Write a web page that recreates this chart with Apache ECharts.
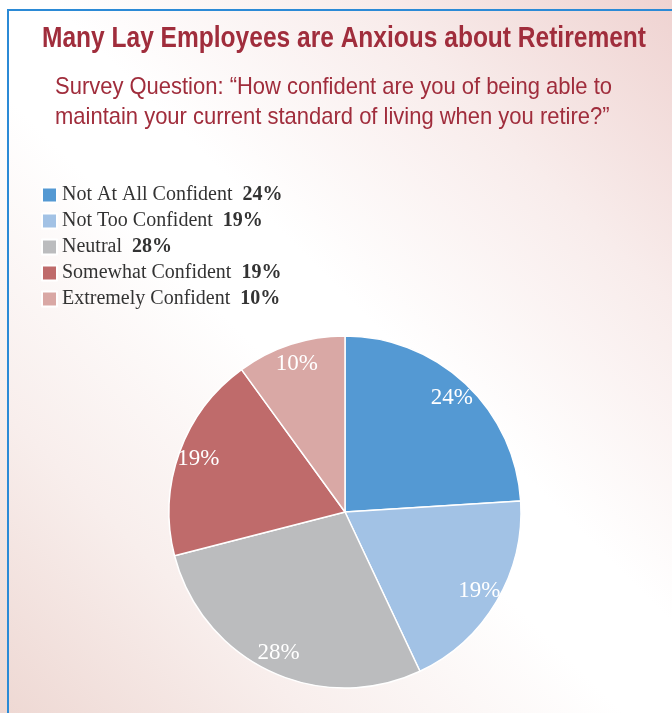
<!DOCTYPE html>
<html>
<head>
<meta charset="utf-8">
<script src="https://cdn.jsdelivr.net/npm/echarts@6/dist/echarts.min.js"></script>
<style>
html,body{margin:0;padding:0;width:672px;height:713px;overflow:hidden;background:#fff;}
#bg{position:absolute;left:0;top:0;width:672px;height:713px;
background:linear-gradient(225deg,#efd3d1 0%,#f8eceb 22%,#ffffff 45%,#ffffff 55%,#f8eeec 78%,#eed8d3 100%);}
#frame{position:absolute;left:7px;top:9px;width:700px;height:720px;border-left:2px solid #2b8ad6;border-top:2px solid #2b8ad6;}
#chart{position:absolute;left:0;top:0;width:672px;height:713px;}
</style>
</head>
<body>
<div id="bg"></div>
<div id="frame"></div>
<div id="chart"></div>
<script>
const categories = ['Not At All Confident','Not Too Confident','Neutral','Somewhat Confident','Extremely Confident'];
const values = [24, 19, 28, 19, 10];
const colors = ['#5499d3','#a2c2e5','#bbbcbe','#bf6b6b','#d9a8a5'];
const titleText = 'Many Lay Employees are Anxious about Retirement';
const subLines = ['Survey Question: \u201cHow confident are you of being able to',
                  'maintain your current standard of living when you retire?\u201d'];

const sansFont = '"Liberation Sans", Arial, sans-serif';
const serifFont = '"Liberation Serif","DejaVu Serif",serif';
function measure(text, font){
  const c = document.createElement('canvas').getContext('2d');
  c.font = font; return c.measureText(text).width;
}
const titleScale = 604 / measure(titleText, 'bold 29px ' + sansFont);
const subScale = 557 / measure(subLines[0], '24px ' + sansFont);

const chart = echarts.init(document.getElementById('chart'), null, {renderer:'canvas'});
const data = categories.map((c,i)=>({name:c, value:values[i], itemStyle:{color:colors[i]}}));
const valueByName = {};
categories.forEach((c,i)=>valueByName[c]=values[i]);

chart.setOption({
  backgroundColor:'transparent',
  graphic:[
    {type:'text', x:42, y:24, scaleX:titleScale, silent:true,
     style:{text:titleText, font:'bold 29px '+sansFont, fill:'#a02d3c', verticalAlign:'top'}},
    {type:'text', x:55, y:75, scaleX:subScale, silent:true,
     style:{text:subLines[0], font:'24px '+sansFont, fill:'#a02d3c', verticalAlign:'top'}},
    {type:'text', x:55, y:105, scaleX:subScale, silent:true,
     style:{text:subLines[1], font:'24px '+sansFont, fill:'#a02d3c', verticalAlign:'top'}}
  ],
  legend:{
    orient:'vertical', left:41, top:185, padding:0, icon:'rect', itemWidth:15, itemHeight:15, itemGap:6,
    selectedMode:false,
    data:categories,
    formatter:function(n){return '{a|'+n+'}  {b|'+valueByName[n]+'%}';},
    textStyle:{
      fontFamily:serifFont, fontSize:20, color:'#333',
      rich:{a:{fontFamily:serifFont,fontSize:20,color:'#333'},
            b:{fontFamily:serifFont,fontSize:20,fontWeight:'bold',color:'#333'}}
    }
  },
  series:[
    {type:'pie', radius:[0,176], center:[345,512], startAngle:90, clockwise:true,
     data:data, silent:true, label:{show:false}, labelLine:{show:false},
     itemStyle:{borderColor:'#fff',borderWidth:1.5}},
    {type:'pie', radius:[130,176], center:[345,512], startAngle:90, clockwise:true,
     data:categories.map((c,i)=>({name:c+' ', value:values[i]})), silent:true,
     itemStyle:{color:'rgba(0,0,0,0)'}, legendHoverLink:false,
     label:{show:true, position:'inside', formatter:'{c}%',
       fontFamily:serifFont, fontSize:23, color:'#fff'},
     labelLine:{show:false}}
  ]
});
</script>
</body>
</html>
